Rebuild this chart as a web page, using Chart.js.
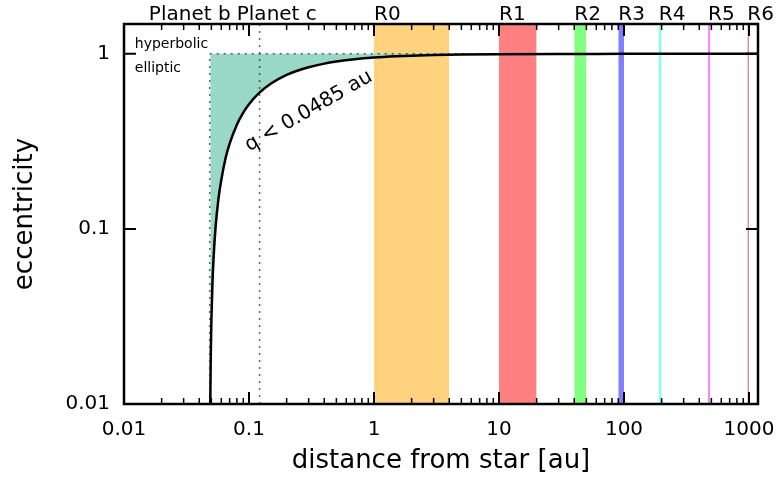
<!DOCTYPE html>
<html>
<head>
<meta charset="utf-8">
<script src="https://cdn.jsdelivr.net/npm/chart.js@4.4.1/dist/chart.umd.min.js"></script>
<style>
body{margin:0;background:#fff;}
#wrap{width:781px;height:477px;position:relative;}
</style>
</head>
<body>
<div id="wrap"><canvas id="myChart"></canvas></div>
<script>
// boundary curve (distance a, eccentricity e)
const curveA = [0.049, 0.0495, 0.05, 0.051, 0.052, 0.054, 0.057, 0.06, 0.065, 0.07, 0.08, 0.09, 0.1, 0.12, 0.15, 0.2, 0.25, 0.3, 0.4, 0.5, 0.7, 1, 1.5, 2, 3, 5, 10, 30, 100, 1180];
const curveE = [0.01, 0.02, 0.03, 0.049, 0.067, 0.102, 0.149, 0.19, 0.254, 0.307, 0.394, 0.461, 0.515, 0.596, 0.677, 0.758, 0.806, 0.838, 0.879, 0.903, 0.931, 0.952, 0.968, 0.976, 0.984, 0.99, 0.995, 0.998, 0.9995, 1];

const planetNames = ["Planet b", "Planet c"];
const planetAt = [0.0485, 0.1216];
const planetLabelAt = [0.0158, 0.0798];

const regionNames = ["R0", "R1", "R2", "R3", "R4", "R5", "R6"];
const regionFrom = [1, 10, 40, 90, 190, 470, 970];
const regionTo = [4, 20, 50, 100, 200, 490, 1000];
const regionColors = ["rgb(255,210,127)", "rgb(255,128,128)", "rgb(128,255,128)", "rgb(128,128,255)", "rgb(128,255,255)", "rgb(255,128,255)", "rgb(210,148,148)"];

const xTicks = [0.01, 0.1, 1, 10, 100, 1000];
const yTicks = [0.01, 0.1, 1];
const xMin = 0.01, xMax = 1180;
const yMin = 0.01, yMax = 1.48;

const qLabel = "q < 0.0485 au";
const qLabelAt = {x: 0.3, y: 0.47};
const orbitLabels = ["hyperbolic", "elliptic"];
const orbitLabelAt = [{x: 0.0122, y: 1.082}, {x: 0.0122, y: 0.789}];

const FONT = "DejaVu Sans";

let datasets = [];
datasets.push({
    data: curveA.map((a, i) => ({x: a, y: curveE[i]})),
    borderColor: "#000",
    borderWidth: 2.5,
    backgroundColor: "rgb(152,216,197)",
    fill: {value: 1},
    cubicInterpolationMode: "monotone",
    pointRadius: 0,
    order: 2
});
// dotted guide lines
const dotted = {borderColor: "rgba(0,0,0,0.6)", borderWidth: 1.5, borderDash: [2, 5], pointRadius: 0, fill: false, order: 1};
datasets.push(Object.assign({data: [{x: planetAt[0], y: yMin}, {x: planetAt[0], y: 1}]}, dotted));
datasets.push(Object.assign({data: [{x: planetAt[1], y: yMin}, {x: planetAt[1], y: yMax}]}, dotted));
datasets.push(Object.assign({data: [{x: planetAt[0], y: 1}, {x: xMax, y: 1}]}, dotted));
// regions
for (let i = 0; i < regionNames.length; i++) {
    datasets.push({
        data: [{x: regionFrom[i], y: yMax}, {x: regionTo[i], y: yMax}],
        borderWidth: 0,
        backgroundColor: regionColors[i],
        fill: "start",
        pointRadius: 0,
        order: 10
    });
}

function minorValues(min, max) {
    let out = [];
    for (let d = 1e-3; d < max * 10; d *= 10) {
        for (let k = 2; k <= 9; k++) {
            let v = d * k;
            if (v > min && v < max) out.push(v);
        }
    }
    return out;
}

const frameTicks = {
    id: "frameTicks",
    afterDraw(chart) {
        const {ctx, chartArea: a, scales: {x, y}} = chart;
        ctx.save();
        ctx.strokeStyle = "#000";
        ctx.lineCap = "butt";
        // minor x ticks, top and bottom
        ctx.lineWidth = 1.5;
        for (const v of minorValues(xMin, xMax)) {
            const px = x.getPixelForValue(v);
            ctx.beginPath();
            ctx.moveTo(px, a.bottom); ctx.lineTo(px, a.bottom - 6);
            ctx.moveTo(px, a.top); ctx.lineTo(px, a.top + 6);
            ctx.stroke();
        }
        ctx.lineWidth = 2;
        for (const v of xTicks) {
            const px = x.getPixelForValue(v);
            ctx.beginPath();
            ctx.moveTo(px, a.bottom); ctx.lineTo(px, a.bottom - 12);
            ctx.moveTo(px, a.top); ctx.lineTo(px, a.top + 12);
            ctx.stroke();
        }
        for (const v of yTicks) {
            const py = y.getPixelForValue(v);
            ctx.beginPath();
            ctx.moveTo(a.left, py); ctx.lineTo(a.left + 12, py);
            ctx.moveTo(a.right, py); ctx.lineTo(a.right - 12, py);
            ctx.stroke();
        }
        ctx.lineWidth = 2.5;
        ctx.strokeRect(a.left, a.top, a.right - a.left, a.bottom - a.top);

        // labels above the frame
        ctx.fillStyle = "#000";
        ctx.font = "20px '" + FONT + "'";
        ctx.textAlign = "left";
        ctx.textBaseline = "alphabetic";
        const names = planetNames.concat(regionNames);
        const at = planetLabelAt.concat(regionFrom);
        names.forEach((n, i) => ctx.fillText(n, x.getPixelForValue(at[i]), a.top - 4));

        // orbit type labels
        ctx.font = "14px '" + FONT + "'";
        orbitLabels.forEach((n, i) => ctx.fillText(n, x.getPixelForValue(orbitLabelAt[i].x), y.getPixelForValue(orbitLabelAt[i].y)));

        // pericentre label
        ctx.font = "20px '" + FONT + "'";
        ctx.textAlign = "center";
        ctx.textBaseline = "middle";
        ctx.translate(x.getPixelForValue(qLabelAt.x), y.getPixelForValue(qLabelAt.y));
        ctx.rotate(-30 * Math.PI / 180);
        ctx.fillText(qLabel, 0, 0);
        ctx.restore();
    }
};

const ctx = document.getElementById("myChart").getContext("2d");
const myChart = new Chart(ctx, {
    type: "line",
    data: {datasets: datasets},
    options: {
        responsive: true,
        maintainAspectRatio: false,
        animation: false,
        layout: {padding: {top: 24, right: 23, left: 0, bottom: 0}},
        plugins: {legend: {display: false}, tooltip: {enabled: false}},
        scales: {
            x: {
                type: "logarithmic",
                min: xMin,
                max: xMax,
                grid: {display: false, drawTicks: false},
                border: {display: false},
                afterBuildTicks: s => { s.ticks = xTicks.map(v => ({value: v})); },
                afterFit: s => { s.height = 73; s.paddingLeft = 0; s.paddingRight = 0; },
                ticks: {
                    autoSkip: false, maxRotation: 0, padding: 14, color: "#000",
                    font: {family: FONT, size: 20},
                    callback: v => String(v)
                },
                title: {display: true, text: "distance from star [au]", color: "#000", font: {family: FONT, size: 26}, padding: {top: 0, bottom: 0}}
            },
            y: {
                type: "logarithmic",
                min: yMin,
                max: yMax,
                grid: {display: false, drawTicks: false},
                border: {display: false},
                afterBuildTicks: s => { s.ticks = yTicks.map(v => ({value: v})); },
                afterFit: s => { s.width = 124; s.paddingTop = 0; s.paddingBottom = 0; },
                ticks: {
                    autoSkip: false, padding: 14, color: "#000",
                    font: {family: FONT, size: 20},
                    callback: v => String(v)
                },
                title: {display: true, text: "eccentricity", color: "#000", font: {family: FONT, size: 26}, padding: {top: 10, bottom: 0}}
            }
        }
    },
    plugins: [frameTicks]
});
</script>
</body>
</html>
